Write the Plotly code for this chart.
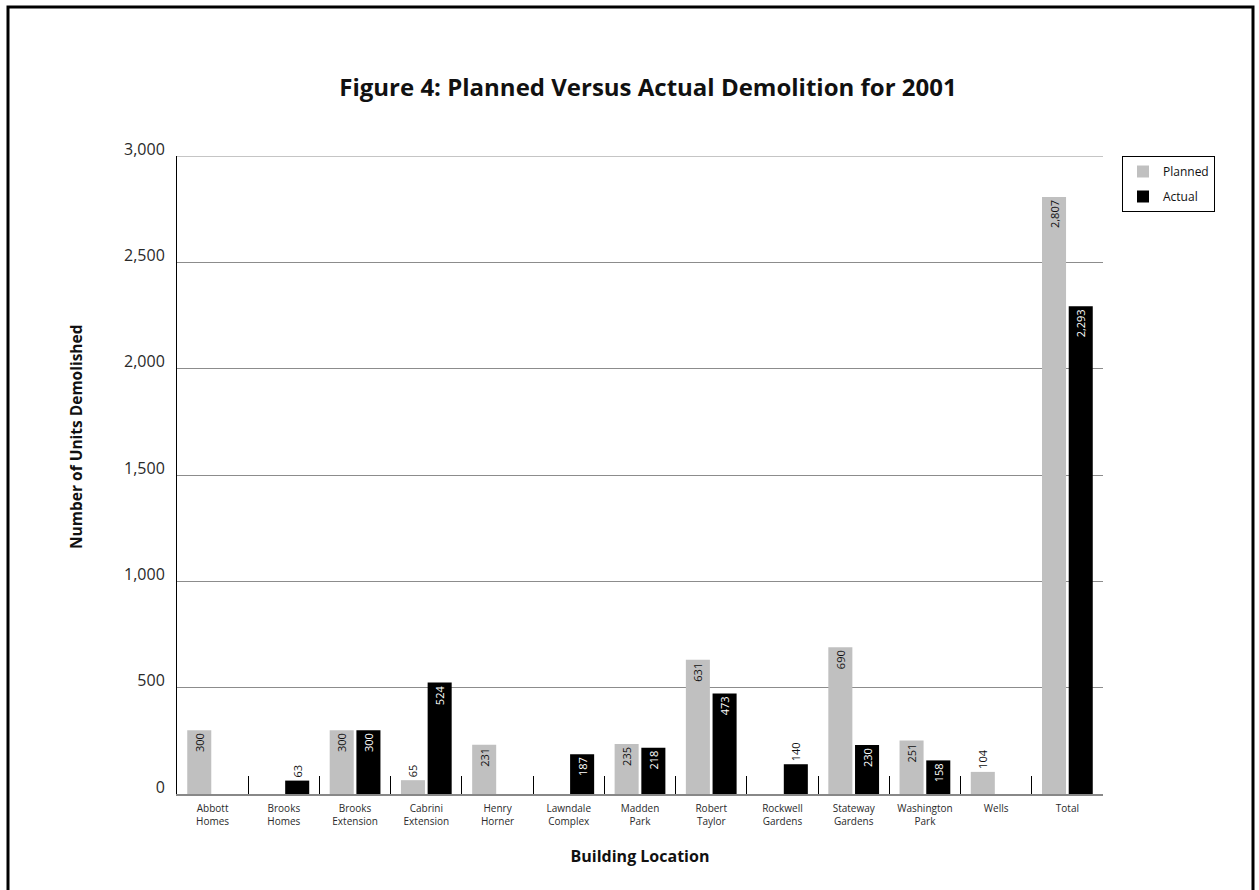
import plotly.graph_objects as go

categories = ["Abbott<br>Homes", "Brooks<br>Homes", "Brooks<br>Extension", "Cabrini<br>Extension",
              "Henry<br>Horner", "Lawndale<br>Complex", "Madden<br>Park", "Robert<br>Taylor",
              "Rockwell<br>Gardens", "Stateway<br>Gardens", "Washington<br>Park", "Wells", "Total"]
planned = [300, None, 300, 65, 231, None, 235, 631, None, 690, 251, 104, 2807]
actual = [None, 63, 300, 524, None, 187, 218, 473, 140, 230, 158, None, 2293]
y_ticks = [0, 500, 1000, 1500, 2000, 2500, 3000]
y_tick_labels = ["0", "500", "1,000", "1,500", "2,000", "2,500", "3,000"]

W, H = 1259, 890
L, R, T, B = 177, 1103, 156, 794
FONT = "Open Sans"


def positions(vals):
    return ["outside" if (v is not None and v < 150) else "inside" for v in vals]


fig = go.Figure()
fig.add_trace(go.Bar(
    name="Planned", x=categories, y=planned, legendgroup="p",
    marker=dict(color="#c0c0c0", line=dict(width=0)),
    texttemplate="%{y:,}", textposition=positions(planned), textangle=-90,
    insidetextanchor="end", cliponaxis=False,
    insidetextfont=dict(family=FONT, size=11, color="#111"),
    outsidetextfont=dict(family=FONT, size=11, color="#111"),
))
fig.add_trace(go.Bar(
    name="Actual", x=categories, y=actual, legendgroup="a",
    marker=dict(color="#000000", line=dict(width=0)),
    texttemplate="%{y:,}", textposition=positions(actual), textangle=-90,
    insidetextanchor="end", cliponaxis=False,
    insidetextfont=dict(family=FONT, size=11, color="#ffffff"),
    outsidetextfont=dict(family=FONT, size=11, color="#111"),
))


def px_x(px):
    return (px - L) / (R - L)


def px_y(py):
    return (B - py) / (B - T)


fig.update_layout(
    width=W, height=H,
    margin=dict(l=L, r=W - R, t=T, b=H - B),
    paper_bgcolor="white", plot_bgcolor="white",
    barmode="group", bargap=0.25, bargroupgap=0.1,
    font=dict(family=FONT, color="#333"),
    title=dict(text="<b>Figure 4: Planned Versus Actual Demolition for 2001</b>",
               font=dict(family=FONT, size=24, color="#111"),
               x=648 / W, xref="container", xanchor="center",
               y=1 - 88 / H, yref="container", yanchor="middle"),
    legend=dict(x=px_x(1122), y=1, xanchor="left", yanchor="top",
                bordercolor="#000", borderwidth=1, bgcolor="white",
                font=dict(family=FONT, size=12, color="#111"),
                itemwidth=30, tracegroupgap=6, traceorder="grouped"),
    showlegend=True,
)
fig.update_xaxes(
    type="category", showgrid=False,
    showline=True, linecolor="#888", linewidth=2,
    ticks="inside", tickson="boundaries", ticklen=18, tickcolor="#000", tickwidth=1,
    tickfont=dict(family=FONT, size=10, color="#2a2a2a"), ticklabelstandoff=4,
    title=dict(text="<b>Building Location</b>", font=dict(family=FONT, size=16, color="#111"),
               standoff=24),
)
fig.update_yaxes(
    range=[0, 3000], tickvals=y_ticks, ticktext=y_tick_labels,
    showgrid=True, gridcolor="#8c8c8c", gridwidth=1,
    showline=True, linecolor="#000", linewidth=1,
    zeroline=False, ticks="", ticklabelshift=-7, ticklabelstandoff=8,
    tickfont=dict(family=FONT, size=16, color="#2a2a2a"),
)

# top gridline at the range edge
fig.add_shape(type="line", xref="paper", yref="y", x0=0, x1=1, y0=y_ticks[-1], y1=y_ticks[-1],
              line=dict(color="#8c8c8c", width=1), layer="below")

# y axis title placed like the reference
fig.add_annotation(text="<b>Number of Units Demolished</b>", textangle=-90,
                   xref="paper", yref="paper", x=px_x(76), y=px_y(437),
                   xanchor="center", yanchor="middle", showarrow=False,
                   font=dict(family=FONT, size=15.5, color="#111"))

# outer frame around the whole graphic
fig.add_shape(type="rect", xref="paper", yref="paper",
              x0=px_x(8), x1=px_x(1253), y0=px_y(905), y1=px_y(7),
              line=dict(color="#000", width=3), fillcolor="rgba(0,0,0,0)", layer="above")

fig.write_html("out.html")
